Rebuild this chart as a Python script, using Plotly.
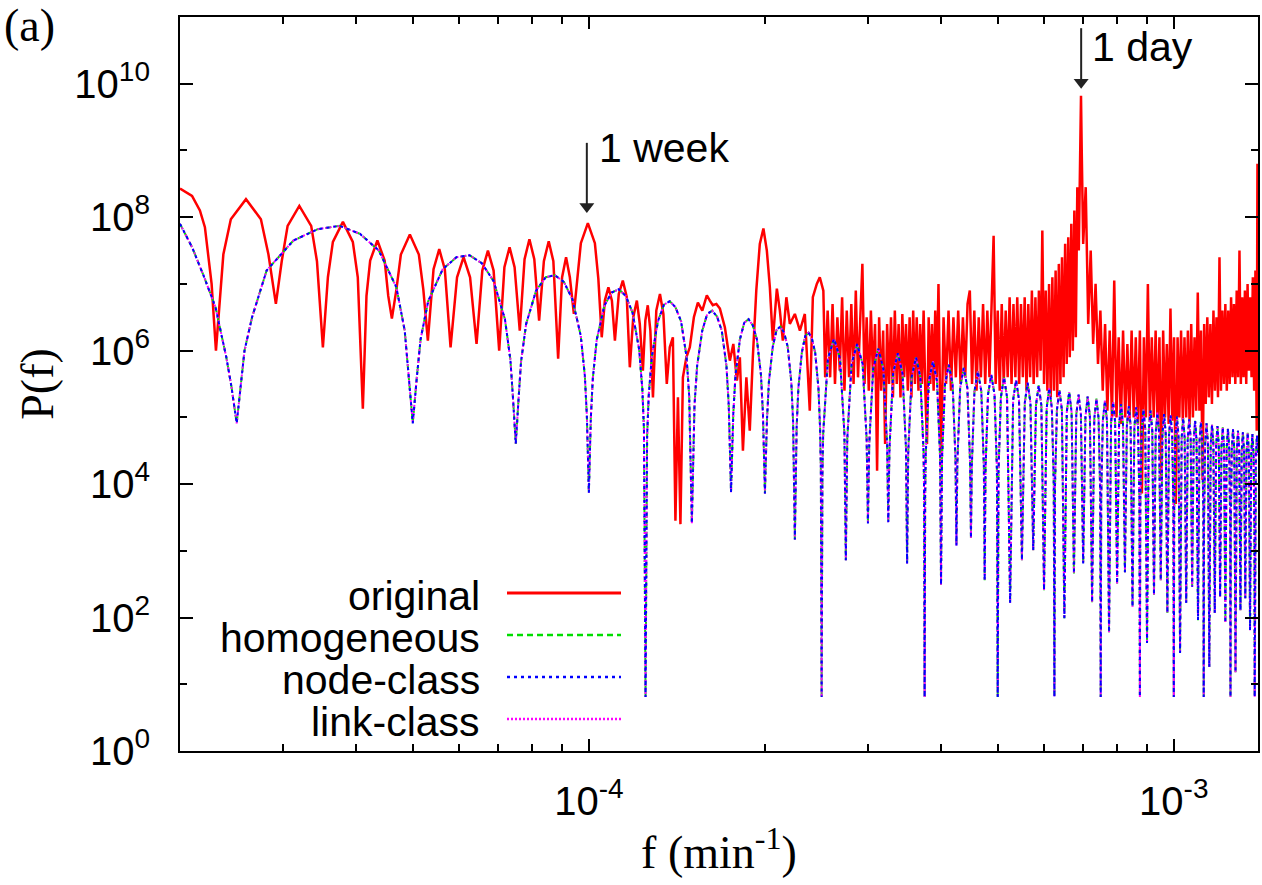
import math
import plotly.graph_objects as go

# ---------------- data ----------------
# original power spectrum: frequency (min^-1) and log10 P(f)
original_f = [
    2.000e-5, 2.097e-5, 2.163e-5, 2.206e-5, 2.265e-5, 2.304e-5, 2.372e-5, 2.443e-5, 2.593e-5, 2.750e-5,
    2.833e-5, 2.917e-5, 2.985e-5, 3.055e-5, 3.199e-5, 3.352e-5, 3.429e-5, 3.510e-5, 3.580e-5, 3.651e-5,
    3.798e-5, 3.949e-5, 4.027e-5, 4.108e-5, 4.167e-5, 4.228e-5, 4.350e-5, 4.476e-5, 4.540e-5, 4.605e-5,
    4.687e-5, 4.771e-5, 4.943e-5, 5.121e-5, 5.213e-5, 5.306e-5, 5.426e-5, 5.549e-5, 5.672e-5, 5.802e-5,
    5.952e-5, 6.107e-5, 6.265e-5, 6.427e-5, 6.574e-5, 6.721e-5, 6.873e-5, 7.026e-5, 7.172e-5, 7.319e-5,
    7.465e-5, 7.619e-5, 7.764e-5, 7.914e-5, 8.067e-5, 8.222e-5, 8.377e-5, 8.539e-5, 8.696e-5, 8.861e-5,
    9.000e-5, 9.142e-5, 9.279e-5, 9.427e-5, 9.557e-5, 9.690e-5, 9.961e-5, 1.024e-4, 1.038e-4, 1.052e-4,
    1.065e-4, 1.080e-4, 1.095e-4, 1.108e-4, 1.125e-4, 1.143e-4, 1.161e-4, 1.175e-4, 1.191e-4, 1.208e-4,
    1.222e-4, 1.237e-4, 1.249e-4, 1.261e-4, 1.274e-4, 1.287e-4, 1.304e-4, 1.323e-4, 1.341e-4, 1.359e-4,
    1.375e-4, 1.392e-4, 1.406e-4, 1.420e-4, 1.434e-4, 1.448e-4, 1.468e-4, 1.488e-4, 1.512e-4, 1.536e-4,
    1.563e-4, 1.591e-4, 1.610e-4, 1.629e-4, 1.652e-4, 1.675e-4, 1.708e-4, 1.742e-4, 1.766e-4, 1.791e-4,
    1.812e-4, 1.834e-4, 1.859e-4, 1.884e-4, 1.907e-4, 1.933e-4, 1.960e-4, 1.988e-4, 2.015e-4, 2.039e-4,
    2.063e-4, 2.096e-4, 2.121e-4, 2.146e-4, 2.176e-4, 2.206e-4, 2.250e-4, 2.295e-4, 2.340e-4, 2.386e-4,
    2.415e-4, 2.453e-4, 2.482e-4, 2.517e-4, 2.535e-4,
    2.560e-4, 2.585e-4, 2.610e-4, 2.635e-4, 2.660e-4, 2.685e-4, 2.710e-4, 2.735e-4, 2.760e-4, 2.785e-4,
    2.810e-4, 2.835e-4, 2.860e-4, 2.885e-4, 2.910e-4, 2.935e-4, 2.960e-4, 2.985e-4, 3.010e-4, 3.035e-4,
    3.060e-4, 3.085e-4, 3.110e-4, 3.135e-4, 3.160e-4, 3.185e-4, 3.210e-4, 3.235e-4, 3.260e-4, 3.285e-4,
    3.310e-4, 3.335e-4, 3.360e-4, 3.385e-4, 3.410e-4, 3.435e-4, 3.460e-4, 3.485e-4, 3.510e-4, 3.535e-4,
    3.560e-4, 3.585e-4, 3.610e-4, 3.635e-4, 3.660e-4, 3.685e-4, 3.710e-4, 3.735e-4, 3.760e-4, 3.785e-4,
    3.810e-4, 3.835e-4, 3.860e-4, 3.885e-4, 3.910e-4, 3.935e-4, 3.960e-4, 3.985e-4,
    4.00e-4, 4.04e-4, 4.08e-4, 4.12e-4, 4.16e-4, 4.20e-4, 4.24e-4, 4.28e-4, 4.32e-4, 4.36e-4,
    4.40e-4, 4.44e-4, 4.48e-4, 4.52e-4, 4.56e-4, 4.60e-4, 4.64e-4, 4.68e-4, 4.72e-4, 4.76e-4,
    4.80e-4, 4.84e-4, 4.88e-4, 4.92e-4, 4.96e-4, 5.00e-4, 5.04e-4, 5.08e-4, 5.12e-4, 5.16e-4,
    5.20e-4, 5.24e-4, 5.28e-4, 5.32e-4, 5.36e-4, 5.40e-4, 5.44e-4, 5.48e-4, 5.52e-4, 5.56e-4,
    5.60e-4, 5.64e-4, 5.68e-4, 5.72e-4, 5.76e-4, 5.80e-4, 5.84e-4, 5.88e-4, 5.92e-4, 5.96e-4,
    6.00e-4, 6.04e-4, 6.08e-4, 6.12e-4, 6.16e-4, 6.20e-4, 6.24e-4, 6.28e-4, 6.32e-4, 6.36e-4,
    6.40e-4, 6.44e-4, 6.48e-4, 6.52e-4, 6.56e-4, 6.60e-4, 6.64e-4, 6.68e-4, 6.72e-4, 6.76e-4,
    6.80e-4, 6.84e-4, 6.88e-4, 6.92e-4, 6.94e-4, 6.96e-4,
    7.00e-4, 7.07e-4, 7.14e-4, 7.21e-4, 7.28e-4, 7.35e-4, 7.42e-4, 7.49e-4, 7.56e-4, 7.63e-4,
    7.70e-4, 7.77e-4, 7.84e-4, 7.91e-4, 7.98e-4, 8.05e-4, 8.12e-4, 8.19e-4, 8.26e-4, 8.33e-4,
    8.40e-4, 8.47e-4, 8.54e-4, 8.61e-4, 8.68e-4, 8.75e-4, 8.82e-4, 8.89e-4, 8.96e-4, 9.03e-4,
    9.10e-4, 9.17e-4, 9.24e-4, 9.31e-4, 9.38e-4, 9.45e-4, 9.52e-4, 9.59e-4, 9.66e-4, 9.73e-4,
    9.80e-4, 9.87e-4, 9.94e-4, 1.001e-3, 1.008e-3, 1.015e-3, 1.022e-3, 1.029e-3, 1.036e-3, 1.043e-3,
    1.050e-3, 1.057e-3, 1.064e-3, 1.071e-3, 1.078e-3, 1.085e-3, 1.092e-3, 1.099e-3, 1.106e-3, 1.113e-3,
    1.120e-3, 1.127e-3, 1.134e-3, 1.141e-3, 1.148e-3, 1.155e-3, 1.162e-3, 1.169e-3, 1.176e-3, 1.183e-3,
    1.190e-3, 1.197e-3, 1.204e-3, 1.211e-3, 1.218e-3, 1.225e-3, 1.232e-3, 1.239e-3, 1.246e-3, 1.253e-3,
    1.260e-3, 1.267e-3, 1.274e-3, 1.281e-3, 1.288e-3, 1.295e-3, 1.302e-3, 1.309e-3, 1.316e-3, 1.323e-3,
    1.330e-3, 1.337e-3, 1.344e-3, 1.351e-3, 1.358e-3, 1.365e-3, 1.372e-3, 1.379e-3, 1.386e-3, 1.390e-3,
]
original_log10_p = [
    8.43, 8.32, 8.1, 7.85, 7.0, 6.0, 7.44, 7.97, 8.27, 7.97,
    7.44, 6.70, 7.34, 7.87, 8.17, 7.87, 7.34, 6.05, 7.1, 7.63,
    7.93, 7.63, 7.1, 5.13, 6.82, 7.35, 7.65, 7.35, 6.82, 6.48,
    6.91, 7.44, 7.74, 7.44, 6.91, 6.15, 7.22, 7.52, 7.22, 6.05,
    7.1, 7.4, 7.1, 6.1, 7.2, 7.5, 7.2, 6.0, 7.25, 7.55,
    7.25, 6.3, 7.37, 7.67, 7.37, 6.45, 7.34, 7.64, 7.34, 5.88,
    7.1, 7.4, 7.1, 6.55, 7.08, 7.61, 7.91, 7.61, 7.08, 6.2,
    6.75, 6.95, 6.75, 6.15, 6.85, 7.05, 6.8, 5.75, 6.5, 6.75,
    6.4, 5.7, 6.45, 6.68, 6.3, 5.3, 6.6, 6.85, 6.55, 5.5,
    6.05, 6.2, 3.45, 5.3, 3.4, 5.6, 5.9, 6.05, 6.5, 6.72,
    6.6, 6.83, 6.75, 6.68, 6.7, 6.63, 6.35, 5.85, 6.1, 5.55,
    5.9, 4.5, 5.6, 4.8, 5.9, 6.9, 7.6, 7.83, 7.5, 6.95,
    6.15, 6.93, 6.6, 6.15, 6.8, 6.4, 6.55, 6.3, 6.55, 5.1,
    6.8, 7.0, 7.1, 6.9, 5.6,
    6.6, 5.6, 6.7, 5.5, 6.5, 5.7, 6.8, 5.4, 6.6, 5.6,
    6.7, 5.5, 6.9, 5.6, 6.6, 7.3, 5.5, 6.5, 5.4, 6.6,
    5.6, 6.4, 4.2, 6.5, 5.4, 6.3, 4.6, 6.4, 5.5, 6.5,
    5.3, 6.6, 5.5, 6.4, 5.3, 6.55, 5.6, 6.4, 5.4, 6.5,
    5.3, 6.6, 5.5, 6.5, 5.4, 6.4, 5.5, 6.6, 5.4, 4.6,
    6.5, 5.5, 6.4, 5.4, 6.6, 5.6, 7.0, 5.5,
    4.25, 6.5, 5.5, 6.6, 5.4, 6.5, 5.6, 6.6, 5.5, 6.5,
    5.6, 6.7, 6.9, 5.5, 6.6, 5.4, 6.5, 5.6, 6.7, 5.5,
    6.6, 5.6, 6.7, 7.72, 5.5, 6.6, 5.4, 6.7, 5.5, 6.6,
    5.6, 6.8, 5.5, 6.7, 5.6, 6.8, 5.5, 6.7, 5.6, 6.8,
    5.4, 6.7, 5.6, 6.9, 5.5, 6.8, 5.6, 6.9, 5.7, 7.8,
    5.5, 6.9, 5.4, 7.0, 5.3, 7.1, 5.4, 7.2, 5.3, 7.3,
    5.5, 7.4, 5.6, 7.6, 5.8, 7.7, 5.9, 7.9, 6.0, 8.1,
    6.2, 8.45, 7.5, 8.9, 9.82, 9.0,
    7.6, 8.45, 6.4, 7.5, 6.1, 7.0, 5.8, 6.6, 5.4, 6.4,
    5.1, 6.3, 5.0, 7.05, 5.0, 6.2, 4.9, 6.3, 5.0, 6.1,
    4.95, 6.3, 5.0, 6.2, 4.9, 6.3, 3.86, 6.2, 5.0, 7.0,
    4.95, 6.2, 5.0, 6.3, 4.9, 6.2, 4.06, 6.3, 5.0, 6.1,
    4.9, 6.63, 4.95, 6.2, 3.7, 6.2, 5.0, 6.3, 4.95, 6.2,
    5.0, 6.3, 4.9, 6.4, 5.0, 6.2, 5.1, 6.87, 5.1, 6.3,
    4.06, 6.4, 5.2, 6.5, 5.3, 6.4, 5.2, 6.6, 5.4, 6.5,
    5.3, 7.4, 5.4, 6.6, 5.5, 6.7, 5.4, 6.6, 5.5, 6.8,
    5.6, 6.7, 5.5, 6.9, 5.6, 7.5, 5.5, 6.8, 5.6, 6.9,
    5.5, 7.0, 5.7, 6.8, 5.6, 7.1, 5.4, 7.2, 4.8, 8.8,
]

# model spectra: the homogeneous, node-class and link-class curves coincide in the figure
model_f = [
    2.00e-5, 2.10e-5, 2.20e-5, 2.30e-5, 2.40e-5, 2.45e-5, 2.50e-5,
    2.578e-5, 2.656e-5, 2.8125e-5, 3.125e-5, 3.4375e-5, 3.75e-5, 4.0625e-5, 4.375e-5, 4.6875e-5, 4.844e-5, 4.922e-5, 5.0e-5,
    5.078e-5, 5.156e-5, 5.3125e-5, 5.625e-5, 5.9375e-5, 6.25e-5, 6.5625e-5, 6.875e-5, 7.1875e-5, 7.344e-5, 7.422e-5, 7.5e-5,
    7.578e-5, 7.656e-5, 7.8125e-5, 8.125e-5, 8.4375e-5, 8.75e-5, 9.0625e-5, 9.375e-5, 9.6875e-5, 9.844e-5, 9.922e-5, 1.0e-4,
    1.0078e-4, 1.0156e-4, 1.0313e-4, 1.0625e-4, 1.0938e-4, 1.125e-4, 1.1563e-4, 1.1875e-4, 1.2188e-4, 1.2344e-4, 1.2422e-4, 1.25e-4,
    1.2578e-4, 1.2656e-4, 1.2813e-4, 1.3125e-4, 1.3438e-4, 1.375e-4, 1.4063e-4, 1.4375e-4, 1.4688e-4, 1.4844e-4, 1.5e-4,
    1.5156e-4, 1.5313e-4, 1.5625e-4, 1.5938e-4, 1.625e-4, 1.6563e-4, 1.6875e-4, 1.7188e-4, 1.7344e-4, 1.75e-4,
    1.7656e-4, 1.7813e-4, 1.8125e-4, 1.8438e-4, 1.875e-4, 1.9063e-4, 1.9375e-4, 1.9688e-4, 1.9844e-4, 2.0e-4,
    2.0156e-4, 2.0313e-4, 2.0625e-4, 2.0938e-4, 2.125e-4, 2.1563e-4, 2.1875e-4, 2.2188e-4, 2.2344e-4, 2.25e-4,
    2.2656e-4, 2.2813e-4, 2.3125e-4, 2.3438e-4, 2.375e-4, 2.4063e-4, 2.4375e-4, 2.4688e-4, 2.4844e-4, 2.4922e-4, 2.5e-4,
    2.5078e-4, 2.5156e-4, 2.5625e-4, 2.625e-4, 2.6875e-4, 2.7344e-4, 2.75e-4,
    2.7656e-4, 2.8125e-4, 2.875e-4, 2.9375e-4, 2.9844e-4, 3.0e-4,
    3.0156e-4, 3.0625e-4, 3.125e-4, 3.1875e-4, 3.2344e-4, 3.25e-4,
    3.2656e-4, 3.3125e-4, 3.375e-4, 3.4375e-4, 3.4844e-4, 3.5e-4,
    3.5156e-4, 3.5625e-4, 3.625e-4, 3.6875e-4, 3.7344e-4, 3.7422e-4, 3.75e-4,
    3.7578e-4, 3.7656e-4, 3.8125e-4, 3.875e-4, 3.9375e-4, 3.9844e-4, 4.0e-4,
    4.0156e-4, 4.0625e-4, 4.125e-4, 4.1875e-4, 4.2344e-4, 4.25e-4,
    4.2656e-4, 4.3125e-4, 4.375e-4, 4.4375e-4, 4.4844e-4, 4.5e-4,
    4.5156e-4, 4.5625e-4, 4.625e-4, 4.6875e-4, 4.7344e-4, 4.75e-4,
    4.7656e-4, 4.8125e-4, 4.875e-4, 4.9375e-4, 4.9844e-4, 5.0e-4,
    5.0156e-4, 5.0625e-4, 5.125e-4, 5.1875e-4, 5.25e-4,
    5.3125e-4, 5.375e-4, 5.4375e-4, 5.5e-4,
    5.5625e-4, 5.625e-4, 5.6875e-4, 5.75e-4,
    5.8125e-4, 5.875e-4, 5.9375e-4, 6.0e-4,
    6.0625e-4, 6.125e-4, 6.1875e-4, 6.2344e-4, 6.25e-4,
    6.2656e-4, 6.3125e-4, 6.375e-4, 6.4375e-4, 6.5e-4,
    6.5625e-4, 6.625e-4, 6.6875e-4, 6.75e-4,
    6.8125e-4, 6.875e-4, 6.9375e-4, 7.0e-4,
    7.0625e-4, 7.125e-4, 7.1875e-4, 7.25e-4,
    7.3125e-4, 7.375e-4, 7.4375e-4, 7.4844e-4, 7.5e-4,
    7.5156e-4, 7.5625e-4, 7.625e-4, 7.6875e-4, 7.75e-4,
    7.8125e-4, 7.875e-4, 7.9375e-4, 8.0e-4,
    8.0625e-4, 8.125e-4, 8.1875e-4, 8.25e-4,
    8.3125e-4, 8.375e-4, 8.4375e-4, 8.5e-4,
    8.5625e-4, 8.625e-4, 8.6875e-4, 8.7344e-4, 8.75e-4,
    8.7656e-4, 8.8125e-4, 8.875e-4, 8.9375e-4, 9.0e-4,
    9.0625e-4, 9.125e-4, 9.1875e-4, 9.25e-4,
    9.3125e-4, 9.375e-4, 9.4375e-4, 9.5e-4,
    9.5625e-4, 9.625e-4, 9.6875e-4, 9.75e-4,
    9.8125e-4, 9.875e-4, 9.9375e-4, 9.9844e-4, 1.0e-3,
    1.0016e-3, 1.0063e-3, 1.0125e-3, 1.0188e-3, 1.025e-3,
    1.0313e-3, 1.0375e-3, 1.0438e-3, 1.05e-3,
    1.0563e-3, 1.0625e-3, 1.0688e-3, 1.075e-3,
    1.0813e-3, 1.0875e-3, 1.0938e-3, 1.1e-3,
    1.1063e-3, 1.1125e-3, 1.1188e-3, 1.1234e-3, 1.125e-3,
    1.1266e-3, 1.1313e-3, 1.1375e-3, 1.1438e-3, 1.15e-3,
    1.1563e-3, 1.1625e-3, 1.1688e-3, 1.175e-3,
    1.1813e-3, 1.1875e-3, 1.1938e-3, 1.2e-3,
    1.2063e-3, 1.2125e-3, 1.2188e-3, 1.225e-3,
    1.2313e-3, 1.2375e-3, 1.2438e-3, 1.2484e-3, 1.25e-3,
    1.2516e-3, 1.2563e-3, 1.2625e-3, 1.2688e-3, 1.275e-3,
    1.2813e-3, 1.2875e-3, 1.2938e-3, 1.3e-3,
    1.3063e-3, 1.3125e-3, 1.3188e-3, 1.325e-3,
    1.3313e-3, 1.3375e-3, 1.3438e-3, 1.35e-3,
    1.3563e-3, 1.3625e-3, 1.3688e-3, 1.3734e-3, 1.375e-3,
    1.3766e-3, 1.3813e-3, 1.3875e-3, 1.3938e-3,
]
model_log10_p = [
    7.90, 7.54, 7.10, 6.65, 5.90, 5.45, 4.91,
    6.0, 6.5, 7.2, 7.65, 7.82, 7.87, 7.75, 7.5, 6.95, 6.3, 5.62, 4.91,
    5.58, 6.17, 6.74, 7.22, 7.40, 7.43, 7.31, 7.04, 6.47, 5.86, 5.26, 4.6,
    5.24, 5.83, 6.40, 6.90, 7.10, 7.13, 7.03, 6.77, 6.22, 5.62, 5.02, 3.87,
    4.99, 5.58, 6.16, 6.67, 6.87, 6.92, 6.82, 6.57, 6.02, 5.42, 4.82, 0.81,
    4.72, 5.32, 5.91, 6.44, 6.69, 6.74, 6.65, 6.44, 5.91, 5.32, 3.41,
    5.18, 5.77, 6.30, 6.55, 6.60, 6.51, 6.30, 5.77, 5.18, 3.88,
    5.05, 5.64, 6.17, 6.42, 6.47, 6.38, 6.17, 5.64, 5.05, 3.86,
    4.94, 5.53, 6.06, 6.31, 6.36, 6.27, 6.06, 5.53, 4.94, 3.17,
    4.85, 5.44, 5.97, 6.22, 6.27, 6.18, 5.97, 5.44, 4.85, 4.25, 0.81,
    4.16, 4.76, 5.88, 6.18, 5.88, 4.76, 2.86,
    4.68, 5.80, 6.10, 5.80, 4.68, 3.41,
    4.61, 5.73, 6.03, 5.73, 4.61, 3.43,
    4.54, 5.66, 5.96, 5.66, 4.54, 2.81,
    4.48, 5.60, 5.90, 5.60, 4.48, 3.88, 0.81,
    3.82, 4.42, 5.54, 5.84, 5.54, 4.42, 2.49,
    4.37, 5.49, 5.79, 5.49, 4.37, 3.08,
    4.32, 5.44, 5.74, 5.44, 4.32, 3.19,
    4.27, 5.39, 5.69, 5.39, 4.27, 2.56,
    4.22, 5.34, 5.64, 5.34, 4.22, 0.81,
    4.18, 5.30, 5.60, 5.30, 2.22,
    5.26, 5.56, 5.26, 2.86,
    5.22, 5.52, 5.22, 3.01,
    5.18, 5.48, 5.18, 2.41,
    5.14, 5.44, 5.14, 4.02, 0.81,
    3.99, 5.11, 5.41, 5.11, 1.99,
    5.08, 5.38, 5.08, 2.66,
    5.04, 5.34, 5.04, 2.81,
    5.01, 5.31, 5.01, 2.23,
    4.98, 5.28, 4.98, 3.86, 0.81,
    3.83, 4.95, 5.25, 4.95, 1.78,
    4.93, 5.23, 4.93, 2.51,
    4.90, 5.20, 4.90, 2.68,
    4.87, 5.17, 4.87, 2.16,
    4.85, 5.15, 4.85, 3.73, 0.81,
    3.70, 4.82, 5.12, 4.82, 1.62,
    4.80, 5.10, 4.80, 2.34,
    4.77, 5.07, 4.77, 2.56,
    4.75, 5.05, 4.75, 2.07,
    4.73, 5.03, 4.73, 3.61, 0.81,
    3.59, 4.71, 5.01, 4.71, 1.47,
    4.69, 4.99, 4.69, 2.22,
    4.67, 4.97, 4.67, 2.46,
    4.65, 4.95, 4.65, 1.96,
    4.63, 4.93, 4.63, 3.51, 0.81,
    3.49, 4.61, 4.91, 4.61, 1.26,
    4.59, 4.89, 4.59, 2.07,
    4.57, 4.87, 4.57, 2.31,
    4.55, 4.85, 4.55, 1.92,
    4.53, 4.83, 4.53, 3.41, 0.81,
    3.40, 4.52, 4.82, 4.52, 1.18,
    4.50, 4.80, 4.50, 2.11,
    4.48, 4.78, 4.48, 2.29,
    4.47, 4.77, 4.47, 1.81,
    4.45, 4.75, 4.45, 3.33, 0.81,
    3.31, 4.43, 4.73, 4.43,
]

series_names = ["original", "homogeneous", "node-class", "link-class"]
series_colors = ["#ff0000", "#00dd00", "#0000ff", "#ff00ff"]
series_dashes = ["solid", "6px,4px", "3px,4px", "2px,2px"]
series_widths = [2.5, 2, 2, 2]
draw_order = [0, 1, 3, 2]   # node-class drawn last so the blue dominates as in the reference

y_tick_vals = [1, 1e2, 1e4, 1e6, 1e8, 1e10]
y_tick_text = ["10<sup>0</sup>", "10<sup>2</sup>", "10<sup>4</sup>", "10<sup>6</sup>",
               "10<sup>8</sup>", "10<sup>10</sup>"]
y_minor_vals = [1e1, 1e3, 1e5, 1e7, 1e9]
x_tick_vals = [1e-4, 1e-3]
x_tick_text = ["10<sup>-4</sup>", "10<sup>-3</sup>"]
x_minor_vals = [3e-5, 4e-5, 5e-5, 6e-5, 7e-5, 8e-5, 9e-5,
                2e-4, 3e-4, 4e-4, 5e-4, 6e-4, 7e-4, 8e-4, 9e-4]

# period markers: frequency, arrow tail P, arrow-head centre P, arrow tip P
markers = [
    ("1 week", 1 / 10080, 1.3e9, 1.45e8, 1.17e8),
    ("1 day", 1 / 1440, 6.8e10, 1.05e10, 8.5e9),
]

# ---------------- figure ----------------
original_p = [10 ** v for v in original_log10_p]
model_p = [10 ** v for v in model_log10_p]
series_x = [original_f, model_f, model_f, model_f]
series_y = [original_p, model_p, model_p, model_p]

fig = go.Figure()
for i in draw_order:
    fig.add_trace(go.Scatter(
        x=series_x[i], y=series_y[i], mode="lines", name=series_names[i], showlegend=False,
        line=dict(color=series_colors[i], width=series_widths[i], dash=series_dashes[i])))

# arrows (shaft + head) for the periodicity markers
for label, f0, p_tail, p_head, p_tip in markers:
    fig.add_trace(go.Scatter(x=[f0, f0], y=[p_tail, p_head], mode="lines", showlegend=False,
                             hoverinfo="skip", line=dict(color="#222222", width=2)))
    fig.add_trace(go.Scatter(x=[f0], y=[p_head], mode="markers", showlegend=False,
                             hoverinfo="skip",
                             marker=dict(symbol="triangle-down", size=13, color="#222222",
                                         line=dict(width=0))))

SANS = "Liberation Sans, Arial, Helvetica, sans-serif"
SERIF = "Liberation Serif, Times New Roman, serif"

axis_common = dict(
    type="log", showgrid=False, zeroline=False, showline=True, linecolor="black",
    linewidth=2, mirror="allticks", ticks="inside", tickcolor="black", tickwidth=1.5,
    tickmode="array", tickfont=dict(family=SANS, size=40, color="black"),
    automargin=False,
)

fig.update_layout(
    width=1262, height=885,
    margin=dict(l=180, r=4, t=17, b=134),
    paper_bgcolor="white", plot_bgcolor="white",
    showlegend=False,
    xaxis=dict(
        axis_common,
        range=[math.log10(2.0e-5), math.log10(1.393e-3)],
        tickvals=x_tick_vals, ticktext=x_tick_text, ticklen=12,
        ticklabelstandoff=14,
        minor=dict(tickmode="array", tickvals=x_minor_vals, ticks="inside",
                   ticklen=7, tickwidth=1.5, tickcolor="black"),
        title=dict(text="f (min<sup>-1</sup>)", standoff=14,
                   font=dict(family=SERIF, size=46, color="black")),
    ),
    yaxis=dict(
        axis_common,
        range=[0, 11],
        tickvals=y_tick_vals, ticktext=y_tick_text, ticklen=13,
        ticklabelstandoff=20,
        minor=dict(tickmode="array", tickvals=y_minor_vals, ticks="inside",
                   ticklen=7, tickwidth=1.5, tickcolor="black"),
        title=dict(text="P(f)", standoff=6,
                   font=dict(family=SERIF, size=46, color="black")),
    ),
)

fig.add_annotation(x=(597 - 180) / 1078, y=(751 - 148) / 734, xref="paper", yref="paper",
                   text="1 week", showarrow=False, xanchor="left", yanchor="middle",
                   font=dict(family=SANS, size=41, color="black"))
fig.add_annotation(x=(1090 - 180) / 1078, y=(751 - 47) / 734, xref="paper", yref="paper",
                   text="1 day", showarrow=False, xanchor="left", yanchor="middle",
                   font=dict(family=SANS, size=41, color="black"))
fig.add_annotation(x=(2 - 180) / 1078, y=(751 - 25) / 734, xref="paper", yref="paper",
                   text="(a)", showarrow=False, xanchor="left", yanchor="middle",
                   font=dict(family=SERIF, size=46, color="black"))

# key (text on the left, sample line on the right, gnuplot style)
key_text_y = [596, 638, 680, 722]
key_line_y = [593, 635, 677, 719]
for name, col, dash, w, ty, ly in zip(series_names, series_colors, series_dashes,
                                      series_widths, key_text_y, key_line_y):
    fig.add_annotation(x=(482 - 180) / 1078, y=(751 - ty) / 734, xref="paper", yref="paper",
                       text=name, showarrow=False, xanchor="right", yanchor="middle",
                       font=dict(family=SANS, size=41, color="black"))
    fig.add_shape(type="line", xref="paper", yref="paper",
                  x0=(507 - 180) / 1078, x1=(621 - 180) / 1078,
                  y0=(751 - ly) / 734, y1=(751 - ly) / 734,
                  line=dict(color=col, width=w + 0.5, dash=dash))

fig.write_html("out.html")
